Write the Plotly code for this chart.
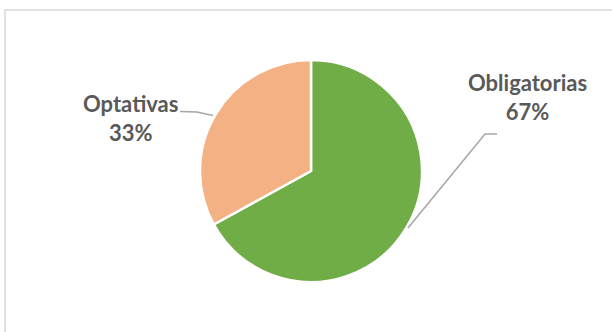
import plotly.graph_objects as go

W, H = 612, 332

labels = ["Obligatorias", "Optativas"]
values = [67, 33]
colors = ["#70AD47", "#F4B183"]

total = sum(values)
pcts = [round(v / total * 100) for v in values]

def px(x):
    return x / W

def py(y):
    return 1 - y / H

fig = go.Figure()
fig.add_trace(go.Pie(
    labels=labels,
    values=values,
    sort=False,
    direction="clockwise",
    rotation=0,
    marker=dict(colors=colors, line=dict(color="white", width=2.5)),
    textinfo="none",
    hoverinfo="label+percent",
    showlegend=False,
    domain=dict(x=[px(200), px(422)], y=[py(282), py(60)]),
))

# Label annotations
label_pos = {"Obligatorias": (527, 97), "Optativas": (130, 118)}
for lab, p in zip(labels, pcts):
    x, y = label_pos[lab]
    fig.add_annotation(
        x=px(x), y=py(y), xref="paper", yref="paper",
        text=f"<b>{lab}</b><br><b>{p}%</b>",
        showarrow=False, align="center",
        xanchor="center", yanchor="middle",
        font=dict(family="Lato", size=22, color="#595959"),
    )

def path(points):
    d = "M " + " L ".join(f"{px(x)},{py(y)}" for x, y in points)
    return d

leader_color = "#A6A6A6"
fig.add_shape(type="path", xref="paper", yref="paper",
              path=path([(180, 111.5), (197, 112), (213, 115.5)]),
              line=dict(color=leader_color, width=1.5))
fig.add_shape(type="path", xref="paper", yref="paper",
              path=path([(497, 134), (485, 134), (408, 228)]),
              line=dict(color=leader_color, width=1.5))

# Chart area border (extends beyond the visible window on right/bottom)
fig.add_shape(type="rect", xref="paper", yref="paper",
              x0=px(5), y0=py(400), x1=px(700), y1=py(10),
              line=dict(color="#D9D9D9", width=1.5), fillcolor="rgba(0,0,0,0)")

fig.update_layout(
    width=W, height=H,
    margin=dict(l=0, r=0, t=0, b=0),
    paper_bgcolor="white", plot_bgcolor="white",
)

fig.write_html("out.html")
